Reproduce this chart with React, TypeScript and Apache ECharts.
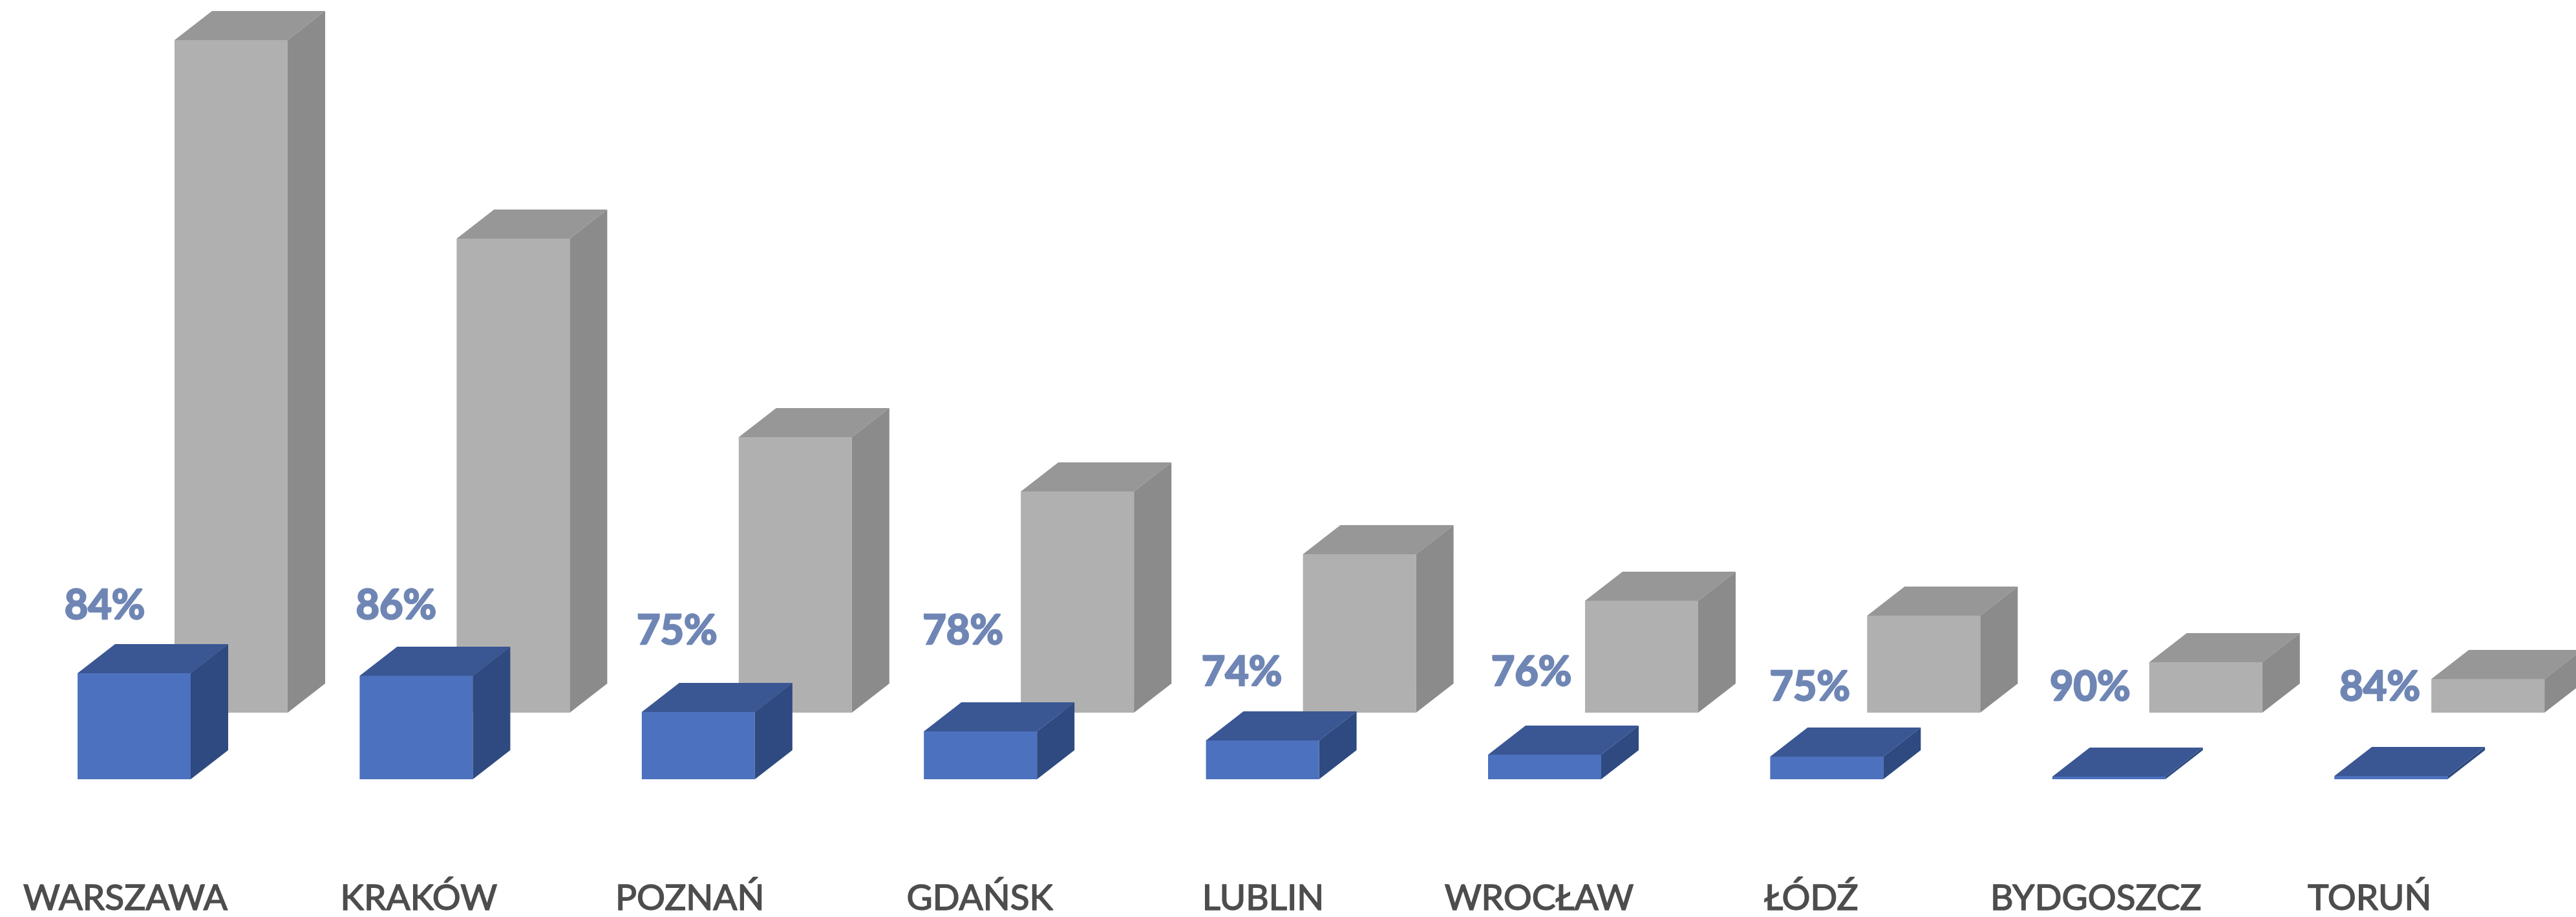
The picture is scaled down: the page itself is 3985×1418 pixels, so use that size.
import React, { useEffect, useRef } from "react";
import * as echarts from "echarts";

// Data (arbitrary units)
const cities = ["WARSZAWA", "KRAKÓW", "POZNAŃ", "GDAŃSK", "LUBLIN", "WROCŁAW", "ŁÓDŹ", "BYDGOSZCZ", "TORUŃ"];
const greyValues = [104.0, 73.3, 42.6, 34.2, 24.5, 17.3, 15.0, 7.8, 5.2];
const blueValues = [16.4, 16.0, 10.4, 7.4, 6.0, 3.8, 3.5, 0.4, 0.5];
const percents = ["84%", "86%", "75%", "78%", "74%", "76%", "75%", "90%", "84%"];

// Layout (pixels)
const W = 3985;
const H = 1418;
const BAND = 436.4;
const BLUE_LEFT = -10.7;
const GREY_SHIFT = 150;
const BLUE_BASE = 1205;
const GREY_BASE = 1102;
const PX_PER_UNIT = 10;
const BAR_W = 175;
const DEPTH_X = 58;
const DEPTH_Y = 45;
const FONT = "Lato";
const cityShift = [-13.5, 4, -13, -1, 1, -8.5, -24, -20, -33];
const pctShift = [-45.5, -31, -33, -27, -32, -20.5, -26, -29, -17];
const pctBaseline = [955, 955, 994, 994, 1058, 1058, 1081, 1081, 1081];

const bar3d = (front: string, top: string, side: string, withPct: boolean) => (params: any, api: any) => {
  const i = api.value(0);
  const base = api.coord([i, 0]);
  const head = api.coord([i, api.value(1)]);
  const xl = base[0] - BAR_W / 2;
  const xr = base[0] + BAR_W / 2;
  const yb = base[1];
  const yt = head[1];
  const children: any[] = [
    { type: "polygon", shape: { points: [[xl, yt], [xr, yt], [xr, yb], [xl, yb]] }, style: { fill: front } },
    { type: "polygon", shape: { points: [[xl, yt], [xl + DEPTH_X, yt - DEPTH_Y], [xr + DEPTH_X, yt - DEPTH_Y], [xr, yt]] }, style: { fill: top } },
    { type: "polygon", shape: { points: [[xr, yt], [xr + DEPTH_X, yt - DEPTH_Y], [xr + DEPTH_X, yb - DEPTH_Y], [xr, yb]] }, style: { fill: side } },
  ];
  if (withPct) {
    children.push({
      type: "text",
      style: {
        text: percents[i],
        x: base[0] + pctShift[i],
        y: pctBaseline[i] + 9,
        textAlign: "center",
        textVerticalAlign: "bottom",
        fill: "#6f86b5",
        stroke: "#6f86b5",
        lineWidth: 2.5,
        fontFamily: FONT,
        fontWeight: "bold",
        fontSize: 63,
      },
    });
  }
  return { type: "group", children };
};

const cityLabels = cities.map((name, i) => {
  const s = cityShift[i];
  return {
    value: name,
    textStyle: { padding: [0, s < 0 ? -2 * s : 0, 0, s > 0 ? 2 * s : 0] },
  };
});

export default function App() {
  const ref = useRef<HTMLDivElement>(null);
  useEffect(() => {
    const chart = echarts.init(ref.current!, undefined, { renderer: "svg" });
    chart.setOption({
      animation: false,
      backgroundColor: "#ffffff",
      grid: [
        { left: BLUE_LEFT, top: BLUE_BASE - 1200, width: BAND * 9, height: 1200, outerBoundsMode: "none" },
        { left: BLUE_LEFT + GREY_SHIFT, top: GREY_BASE - 1100, width: BAND * 9, height: 1100, outerBoundsMode: "none" },
      ],
      xAxis: [
        {
          type: "category",
          gridIndex: 0,
          data: cityLabels,
          axisLine: { show: false },
          axisTick: { show: false },
          axisLabel: {
            show: true,
            interval: 0,
            margin: 153,
            color: "#4d4d4d",
            fontFamily: FONT,
            fontSize: 55,
            textBorderColor: "#4d4d4d",
            textBorderWidth: 1.5,
          },
        },
        { type: "category", gridIndex: 1, data: cities, show: false },
      ],
      yAxis: [
        { type: "value", gridIndex: 0, min: 0, max: 1200 / PX_PER_UNIT, show: false },
        { type: "value", gridIndex: 1, min: 0, max: 1100 / PX_PER_UNIT, show: false },
      ],
      series: [
        {
          name: "Grey",
          type: "custom",
          xAxisIndex: 1,
          yAxisIndex: 1,
          encode: { x: 0, y: 1 },
          data: greyValues.map((v, i) => [i, v]),
          renderItem: bar3d("#b0b0b0", "#979797", "#8b8b8b", false),
        },
        {
          name: "Blue",
          type: "custom",
          xAxisIndex: 0,
          yAxisIndex: 0,
          encode: { x: 0, y: 1 },
          data: blueValues.map((v, i) => [i, v]),
          renderItem: bar3d("#4c71be", "#3a5693", "#2e4a80", true),
        },
      ],
    });
    return () => chart.dispose();
  }, []);
  return <div ref={ref} style={{ position: "absolute", left: 0, top: 0, width: W, height: H }} />;
}
